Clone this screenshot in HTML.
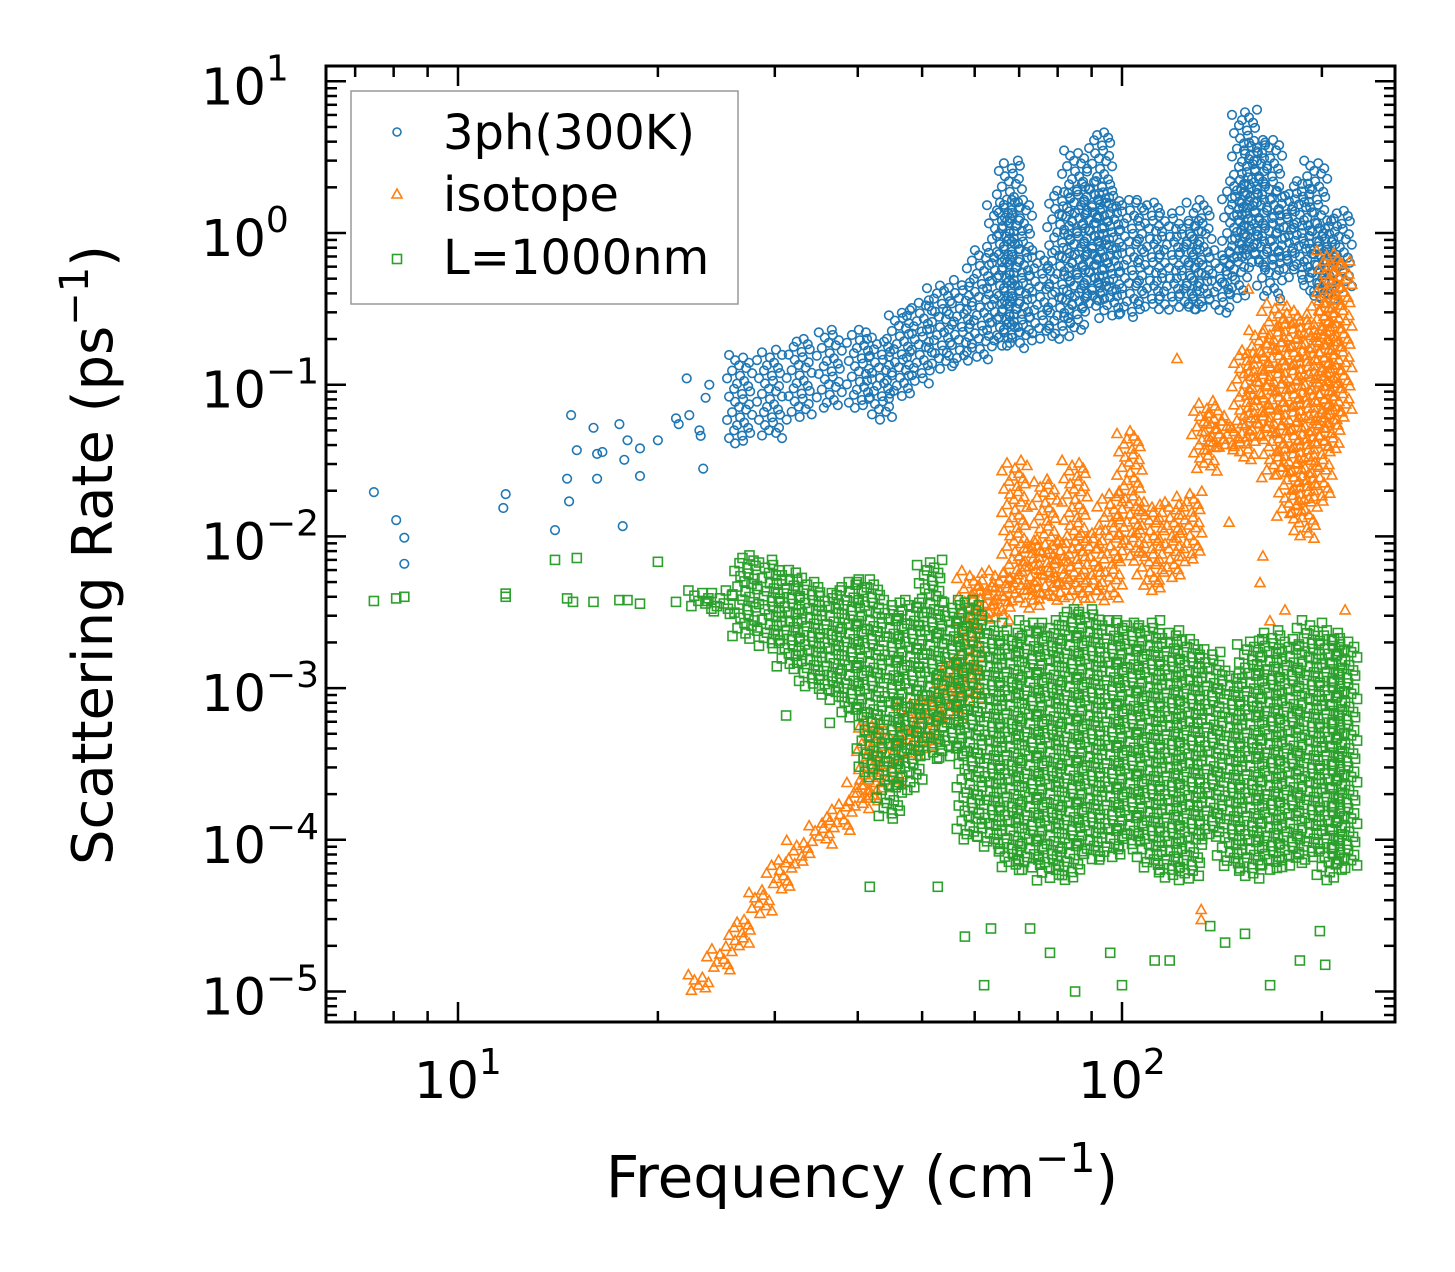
<!DOCTYPE html>
<html><head><meta charset="utf-8"><style>
html,body{margin:0;padding:0;background:#fff}
svg{display:block;font-family:"DejaVu Sans","Liberation Sans",sans-serif}
</style></head><body>
<svg id="chart" width="1455" height="1272" viewBox="0 0 1455 1272" xmlns="http://www.w3.org/2000/svg">
<g id="marks"></g>
<g id="axes"></g>
<g id="legend">
<rect x="351" y="91" width="387" height="213" fill="#fff" fill-opacity="0.8" stroke="#999" stroke-width="1.5"/>
<circle cx="397" cy="132" r="4" fill="none" stroke="#1f77b4" stroke-width="1.6"/>
<text x="443" y="149" font-size="48">3ph(300K)</text>
<path d="M397,189 L402,198 L392,198 Z" fill="none" stroke="#ff7f0e" stroke-width="1.6"/>
<text x="443" y="211" font-size="48">isotope</text>
<rect x="392.5" y="254.5" width="9" height="9" fill="none" stroke="#2ca02c" stroke-width="1.6"/>
<text x="443" y="274" font-size="48">L=1000nm</text>
</g>
</svg>
<script>
// ---- data ----
const blueFreq = [7.47,8.07,8.3,8.3,11.8,11.7,14.0,14.8,14.6,14.7,15.1,16.0,16.2,16.2,16.5,17.5,17.7,18.0,17.8,18.8,18.8,20.0,21.3,21.5,22.1,22.3,23.1,23.4,23.2,23.6,23.9];
const blueRate = [0.0196,0.0128,0.0098,0.0066,0.019,0.0154,0.011,0.063,0.024,0.017,0.037,0.052,0.024,0.035,0.036,0.055,0.0117,0.043,0.032,0.038,0.025,0.043,0.060,0.055,0.11,0.063,0.050,0.028,0.046,0.082,0.10];
const blueBandFreq = [26.6,29.5,32.7,36.3,40.3,43.2,46.3,49.6,53.2,57.0,61.1,65.5,67.8,70.2,75.3,80.7,85.0,89.5,92.7,96.0,102.8,110.2,118.1,126.5,130.9,140.6,148.0,153.2,158.6,167.1,175.9,185.3,195.4,202.3,212.8];
const blueBandHigh = [0.157,0.17,0.20,0.23,0.23,0.20,0.31,0.36,0.45,0.49,0.77,1.65,3.0,1.65,0.77,1.9,3.5,2.2,4.6,1.9,1.65,1.65,1.4,1.2,1.65,0.77,2.2,6.5,4.1,4.1,1.9,2.2,3.0,1.2,1.4];
const blueBandLow = [0.040,0.043,0.058,0.068,0.068,0.058,0.080,0.10,0.125,0.135,0.145,0.18,0.20,0.17,0.20,0.20,0.23,0.31,0.36,0.27,0.27,0.31,0.31,0.31,0.31,0.29,0.36,0.66,0.57,0.36,0.57,0.49,0.36,0.36,0.42];

const orangeFreq = [121,155,145,167,176,216.8,131.6,131.6,161.4,163];
const orangeRate = [0.15,0.43,0.0125,0.0028,0.0033,0.0033,0.000035,0.000030,0.005,0.0075];
const orangeBandFreq = [23.1,24.8,26.6,28.5,30.5,32.7,35.1,37.6,40.3,41.7,44.7,48.0,51.4,55.1,59.0,62.2,65.5,69.0,72.7,76.6,80.7,85.0,89.5,96.0,102.8,110.2,118.1,126.5,133.3,138.1,145.5,153.2,161.4,169.9,179.0,188.7,198.6,205.6,212.8];
const orangeBandHigh = [1.3e-5,2.0e-5,3.0e-5,4.7e-5,7.4e-5,1.0e-4,1.35e-4,1.8e-4,2.5e-4,6.2e-4,5.3e-4,8.3e-4,9.6e-4,1.5e-3,6e-3,5.2e-3,6e-3,0.032,9.5e-3,0.024,9.5e-3,0.032,0.011,0.020,0.05,0.017,0.017,0.020,0.079,0.068,0.058,0.17,0.23,0.36,0.31,0.27,0.36,0.77,0.66];
const orangeBandLow = [1.0e-5,1.4e-5,2.0e-5,3.2e-5,4.7e-5,6.8e-5,9.3e-5,1.15e-4,1.6e-4,1.8e-4,2.1e-4,3.4e-4,3.9e-4,6.2e-4,8.3e-4,2.8e-3,2.8e-3,3.8e-3,3.3e-3,3.8e-3,3.8e-3,3.8e-3,3.8e-3,3.8e-3,6.9e-3,4.4e-3,5.2e-3,6.9e-3,0.027,0.037,0.037,0.032,0.043,0.024,0.013,9.5e-3,0.017,0.037,0.058];

const greenFreq = [7.47,8.07,8.3,11.8,11.8,14.0,15.1,14.6,14.9,16.0,17.5,18.0,18.8,20.0,21.3,52.8,41.7,58,62,63.5,72.7,77.9,85,96,100,112,118,135.8,143,153.2,167.1,185.3,202.3,198.6,31.2,36.3,40.8];
const greenRate = [3.75e-3,3.9e-3,4.0e-3,4.2e-3,4.0e-3,7.0e-3,7.2e-3,3.9e-3,3.7e-3,3.7e-3,3.8e-3,3.8e-3,3.6e-3,6.8e-3,3.7e-3,4.9e-5,4.9e-5,2.3e-5,1.1e-5,2.6e-5,2.6e-5,1.8e-5,1.0e-5,1.8e-5,1.1e-5,1.6e-5,1.6e-5,2.7e-5,2.1e-5,2.4e-5,1.1e-5,1.6e-5,1.5e-5,2.5e-5,6.6e-4,5.9e-4,3.4e-4];
const greenBandFreq = [23.1,24.8,27.1,29.5,31.6,33.9,36.3,38.9,41.7,44.7,48.0,51.4,55.1,59.0,63.3,67.8,72.7,77.9,83.5,89.5,96.0,102.8,110.2,118.1,126.5,135.8,145.5,156.0,167.1,179.0,191.9,205.6,216.8];
const greenBandHigh = [4.4e-3,4.4e-3,7.5e-3,7.0e-3,6.0e-3,5.2e-3,4.4e-3,5.2e-3,5.2e-3,3.8e-3,3.8e-3,7.0e-3,3.8e-3,3.8e-3,2.8e-3,2.4e-3,2.8e-3,2.8e-3,3.3e-3,3.3e-3,2.8e-3,2.8e-3,2.8e-3,2.4e-3,2.1e-3,1.8e-3,1.3e-3,2.1e-3,2.4e-3,2.1e-3,2.8e-3,2.4e-3,2.1e-3];
const greenBandLow = [3.3e-3,3.0e-3,2.1e-3,1.8e-3,1.3e-3,9.7e-4,8.3e-4,6.2e-4,2.5e-4,1.35e-4,2.1e-4,3.4e-4,3.4e-4,1.0e-4,8.6e-5,6.3e-5,6.3e-5,5.4e-5,5.4e-5,7.4e-5,7.4e-5,8.6e-5,6.3e-5,5.4e-5,5.4e-5,1.0e-4,6.3e-5,5.4e-5,6.3e-5,6.3e-5,7.4e-5,5.4e-5,6.3e-5];

const yTickExp = [1,0,-1,-2,-3,-4,-5];
const xTickExp = [1,2];

// ---- axes ----
const L=326,R=1395,T=66,B=1022;
const X0=458, XDEC=664;
const Y0=233, YDEC=151.7;
const xs = f => X0 + (Math.log10(f)-1)*XDEC;
const ys = r => Y0 - Math.log10(r)*YDEC;
const NS="http://www.w3.org/2000/svg";
const marks=document.getElementById('marks'), axes=document.getElementById('axes');
function mk(tag,attrs,parent){const e=document.createElementNS(NS,tag);for(const k in attrs)e.setAttribute(k,attrs[k]);parent.appendChild(e);return e;}

function marker(kind,cx,cy,g){
  let e;
  if(kind==='c') e=mk('circle',{cx:cx.toFixed(1),cy:cy.toFixed(1),r:4.3,fill:'none',stroke:'#1f77b4','stroke-width':1.6},g);
  else if(kind==='t') e=mk('path',{d:`M${cx.toFixed(1)},${(cy-4.5).toFixed(1)}l5,9h-10z`,fill:'none',stroke:'#ff7f0e','stroke-width':1.6},g);
  else e=mk('rect',{x:(cx-4.5).toFixed(1),y:(cy-4.5).toFixed(1),width:9,height:9,fill:'none',stroke:'#2ca02c','stroke-width':1.6},g);
  return e;
}
function series(kind,name,fr,rt,bf,bh,bl){
  const g=mk('g',{},marks);
  
  
  for(let i=0;i<fr.length;i++){
    const m=marker(kind,xs(fr[i]),ys(rt[i]),g);
    
    
  }
  const offs=[-11,3,-5,9,-1,6,-8,12,0,-13,4,-3,8,-6,10,2];
  for(let i=0;i<bf.length;i++){
    const cx=xs(bf[i]), y1=ys(bh[i]), y2=ys(bl[i]);
    let k=i*5;
    for(let y=y1;y<=y2+0.1;y+=2.6,k++){
      const o=offs[k%offs.length];
      const m=marker(kind,cx+o,y,g);
      
      
    }
  }
}
series('c','series-3ph',blueFreq,blueRate,blueBandFreq,blueBandHigh,blueBandLow);
series('t','series-isotope',orangeFreq,orangeRate,orangeBandFreq,orangeBandHigh,orangeBandLow);
series('s','series-l1000nm',greenFreq,greenRate,greenBandFreq,greenBandHigh,greenBandLow);

const fr=mk('rect',{x:L,y:T,width:R-L,height:B-T,fill:'none',stroke:'#000','stroke-width':3},axes);


for(let e=-6;e<=1;e++){
  for(let m=1;m<10;m++){
    const y=ys(m*Math.pow(10,e));
    if(y<T||y>B) continue;
    const len=m===1?20:11;
    mk('line',{x1:L,x2:L+len,y1:y,y2:y,stroke:'#000','stroke-width':2.5},axes);
    mk('line',{x1:R,x2:R-len,y1:y,y2:y,stroke:'#000','stroke-width':2.5},axes);
  }
}
for(let e=0;e<=2;e++){
  for(let m=1;m<10;m++){
    const x=xs(m*Math.pow(10,e));
    if(x<L||x>R) continue;
    const len=m===1?20:11;
    mk('line',{x1:x,x2:x,y1:B,y2:B-len,stroke:'#000','stroke-width':2.5},axes);
    mk('line',{x1:x,x2:x,y1:T,y2:T+len,stroke:'#000','stroke-width':2.5},axes);
  }
}
function powLabel(x,y,exp,anchor,name){
  const t=mk('text',{x:x,y:y,'font-size':51,'text-anchor':anchor},axes);
  
  
  const a=mk('tspan',{},t); a.textContent='10';
  const b=mk('tspan',{dy:-24,'font-size':36}, t); b.textContent=(exp<0?'\u2212':'')+Math.abs(exp);
}
yTickExp.forEach(e=>powLabel(201,ys(Math.pow(10,e))+23,e,'start','y-tick-label'));
xTickExp.forEach(e=>powLabel(xs(Math.pow(10,e))-44,1098,e,'start','x-tick-label'));

const xl=mk('text',{x:862,y:1197,'font-size':58,'text-anchor':'middle'},axes);


xl.innerHTML='Frequency (cm<tspan dy="-25" font-size="41">\u22121</tspan><tspan dy="25">)</tspan>';
const yl=mk('text',{x:0,y:0,'font-size':56,'text-anchor':'middle',transform:'translate(112,555) rotate(-90)'},axes);


yl.innerHTML='Scattering Rate (ps<tspan dy="-24" font-size="40">\u22121</tspan><tspan dy="24">)</tspan>';
</script>
</body></html>
